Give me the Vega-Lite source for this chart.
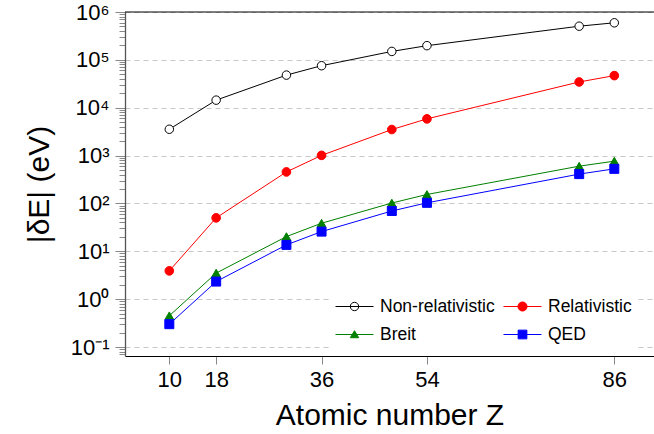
{
  "$schema": "https://vega.github.io/schema/vega-lite/v6.json",
  "width": 529,
  "height": 344,
  "autosize": {"type": "none"},
  "padding": {"left": 125, "top": 12, "right": 0, "bottom": 78},
  "config": {
    "view": {"stroke": null},
    "font": "Liberation Sans",
    "axis": {"labelColor": "black", "titleColor": "black", "titleFontWeight": "normal", "labelFont": "Liberation Sans", "titleFont": "Liberation Sans"}
  },
  "data": {
    "values": [
      {"Z": 10, "series": "Non-relativistic", "dE": 3550},
      {"Z": 18, "series": "Non-relativistic", "dE": 14400},
      {"Z": 30, "series": "Non-relativistic", "dE": 48000},
      {"Z": 36, "series": "Non-relativistic", "dE": 75500},
      {"Z": 48, "series": "Non-relativistic", "dE": 150000},
      {"Z": 54, "series": "Non-relativistic", "dE": 198000},
      {"Z": 80, "series": "Non-relativistic", "dE": 505000},
      {"Z": 86, "series": "Non-relativistic", "dE": 595000},
      {"Z": 10, "series": "Relativistic", "dE": 3.9},
      {"Z": 18, "series": "Relativistic", "dE": 50},
      {"Z": 30, "series": "Relativistic", "dE": 455},
      {"Z": 36, "series": "Relativistic", "dE": 1010},
      {"Z": 48, "series": "Relativistic", "dE": 3500},
      {"Z": 54, "series": "Relativistic", "dE": 5850},
      {"Z": 80, "series": "Relativistic", "dE": 34500},
      {"Z": 86, "series": "Relativistic", "dE": 46900},
      {"Z": 10, "series": "Breit", "dE": 0.45},
      {"Z": 18, "series": "Breit", "dE": 3.5},
      {"Z": 30, "series": "Breit", "dE": 20.3},
      {"Z": 36, "series": "Breit", "dE": 38.6},
      {"Z": 48, "series": "Breit", "dE": 102},
      {"Z": 54, "series": "Breit", "dE": 154},
      {"Z": 80, "series": "Breit", "dE": 601},
      {"Z": 86, "series": "Breit", "dE": 764},
      {"Z": 10, "series": "QED", "dE": 0.30},
      {"Z": 18, "series": "QED", "dE": 2.33},
      {"Z": 30, "series": "QED", "dE": 13.6},
      {"Z": 36, "series": "QED", "dE": 25.8},
      {"Z": 48, "series": "QED", "dE": 69.5},
      {"Z": 54, "series": "QED", "dE": 103},
      {"Z": 80, "series": "QED", "dE": 410},
      {"Z": 86, "series": "QED", "dE": 528}
    ]
  },
  "layer": [
    {
      "mark": {"type": "line", "strokeWidth": 1},
      "encoding": {
        "x": {
          "field": "Z", "type": "quantitative",
          "scale": {"domain": [2.43, 92.78], "nice": false, "zero": false},
          "axis": {
            "values": [10, 18, 36, 54, 86],
            "grid": false,
            "domainColor": "black", "domainWidth": 1,
            "tickColor": "#888", "tickSize": 8, "tickWidth": 1,
            "labelFontSize": 22, "labelPadding": 5,
            "title": "Atomic number Z", "titleFontSize": 30, "titlePadding": 10
          }
        },
        "y": {
          "field": "dE", "type": "quantitative",
          "scale": {"type": "log", "domain": [0.0649, 1000000], "nice": false},
          "axis": {
            "values": [0.07, 0.08, 0.09, 0.1, 0.2, 0.3, 0.4, 0.5, 0.6, 0.7, 0.8, 0.9, 1, 2, 3, 4, 5, 6, 7, 8, 9, 10, 20, 30, 40, 50, 60, 70, 80, 90, 100, 200, 300, 400, 500, 600, 700, 800, 900, 1000, 2000, 3000, 4000, 5000, 6000, 7000, 8000, 9000, 10000, 20000, 30000, 40000, 50000, 60000, 70000, 80000, 90000, 100000, 200000, 300000, 400000, 500000, 600000, 700000, 800000, 900000, 1000000],
            "labelExpr": "abs(log(datum.value)/LN10 - round(log(datum.value)/LN10)) < 0.001 ? '10' + ['⁻¹','⁰','¹','²','³','⁴','⁵','⁶'][round(log(datum.value)/LN10)+1] : ''",
            "tickSize": {"condition": {"test": "abs(log(datum.value)/LN10 - round(log(datum.value)/LN10)) < 0.001", "value": 10}, "value": 6},
            "tickColor": "#888", "tickWidth": 1,
            "domainColor": "#555", "domainWidth": 1.3,
            "grid": true, "gridDash": [5, 4], "gridColor": "#c8c8c8", "gridWidth": 1.2,
            "gridOpacity": {"condition": {"test": "abs(log(datum.value)/LN10 - round(log(datum.value)/LN10)) < 0.001", "value": 1}, "value": 0},
            "labelFontSize": 22, "labelPadding": 6, "labelOverlap": false,
            "title": "|δE| (eV)", "titleFontSize": 30, "titlePadding": 16
          }
        },
        "color": {
          "field": "series", "type": "nominal",
          "scale": {"domain": ["Non-relativistic", "Relativistic", "Breit", "QED"], "range": ["black", "#ff0000", "#008000", "#0000ff"]},
          "legend": null
        },
        "order": {"field": "Z", "type": "quantitative"}
      }
    },
    {
      "mark": {"type": "rule", "color": "black", "strokeWidth": 1},
      "data": {"values": [{}]},
      "encoding": {"y": {"datum": 1000000}}
    },
    {
      "mark": {"type": "point", "opacity": 1, "strokeWidth": 1},
      "encoding": {
        "x": {"field": "Z", "type": "quantitative"},
        "y": {"field": "dE", "type": "quantitative"},
        "shape": {
          "field": "series", "type": "nominal",
          "scale": {"domain": ["Non-relativistic", "Relativistic", "Breit", "QED"], "range": ["circle", "circle", "triangle-up", "square"]},
          "legend": null
        },
        "fill": {
          "field": "series", "type": "nominal",
          "scale": {"domain": ["Non-relativistic", "Relativistic", "Breit", "QED"], "range": ["white", "#ff0000", "#008000", "#0000ff"]},
          "legend": null
        },
        "stroke": {
          "field": "series", "type": "nominal",
          "scale": {"domain": ["Non-relativistic", "Relativistic", "Breit", "QED"], "range": ["black", "#ff0000", "#008000", "#0000ff"]},
          "legend": null
        },
        "size": {"field": "series", "type": "nominal", "scale": {"domain": ["Non-relativistic", "Relativistic", "Breit", "QED"], "range": [72, 81, 64, 84]}, "legend": null}
      }
    },
    {
      "transform": [{"filter": "false"}],
      "mark": {"type": "point", "opacity": 1, "strokeWidth": 1},
      "encoding": {
        "x": {"field": "Z", "type": "quantitative"},
        "y": {"field": "dE", "type": "quantitative"},
        "shape": {
          "field": "series", "type": "nominal",
          "scale": {"domain": ["Non-relativistic", "Relativistic", "Breit", "QED"], "range": [
            "M-1,0H1M-0.22,0A0.22,0.22 0 1,0 0.22,0A0.22,0.22 0 1,0 -0.22,0Z",
            "M-1,0H1M-0.24,0A0.24,0.24 0 1,0 0.24,0A0.24,0.24 0 1,0 -0.24,0Z",
            "M-1,0H1M0,-0.2L0.22,0.17L-0.22,0.17Z",
            "M-1,0H1M-0.23,-0.23H0.23V0.23H-0.23Z"
          ]},
          "legend": {
            "title": null, "orient": "none", "legendX": 205, "legendY": 270,
            "direction": "horizontal", "columns": 2,
            "fillColor": "white", "padding": 5,
            "symbolSize": 1444, "symbolStrokeWidth": 1,
            "labelFontSize": 17.5, "labelFont": "Liberation Sans", "labelColor": "black",
            "labelOffset": 6, "columnPadding": 6, "rowPadding": -4
          }
        },
        "fill": {
          "field": "series", "type": "nominal",
          "scale": {"domain": ["Non-relativistic", "Relativistic", "Breit", "QED"], "range": ["white", "#ff0000", "#008000", "#0000ff"]}
        },
        "stroke": {
          "field": "series", "type": "nominal",
          "scale": {"domain": ["Non-relativistic", "Relativistic", "Breit", "QED"], "range": ["black", "#ff0000", "#008000", "#0000ff"]}
        }
      }
    }
  ],
  "resolve": {"scale": {"shape": "independent", "fill": "independent", "stroke": "independent", "size": "independent"}}
}
